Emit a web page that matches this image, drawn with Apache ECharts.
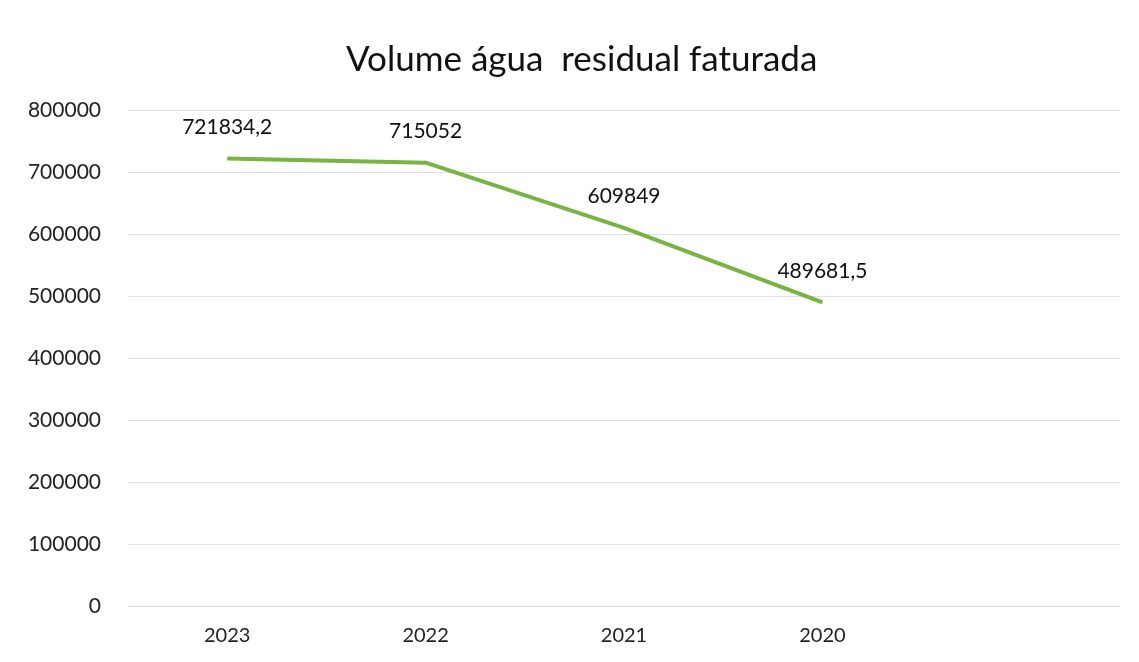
<!DOCTYPE html>
<html>
<head>
<meta charset="utf-8">
<script src="https://cdn.jsdelivr.net/npm/echarts@6/dist/echarts.min.js"></script>
<style>
  html, body { margin: 0; padding: 0; background: #fff; }
  #chart { width: 1139px; height: 662px; }
</style>
</head>
<body>
<div id="chart"></div>
<script>
// anos (a última categoria fica vazia, como no original)
const anos = ["2023", "2022", "2021", "2020", ""]
const volume = [721834.2, 715052, 609849, 489681.5]
const yMin = 0
const yMax = 800000
const yStep = 100000

const chart = echarts.init(document.getElementById("chart"))
chart.setOption({
  animation: false,
  textStyle: { fontFamily: "Lato, 'Open Sans', sans-serif" },
  title: {
    text: "Volume água  residual faturada",
    left: 341,
    top: 37,
    textStyle: { fontSize: 35, fontWeight: "normal", color: "#111" }
  },
  grid: { left: 128, right: 19, top: 110, bottom: 56 },
  xAxis: {
    type: "category",
    data: anos,
    boundaryGap: true,
    axisLine: { lineStyle: { color: "#d9d9d9" } },
    axisTick: { show: false },
    axisLabel: { color: "#222", fontSize: 20, margin: 20 }
  },
  yAxis: {
    type: "value",
    min: yMin,
    max: yMax,
    interval: yStep,
    axisLine: { show: false },
    axisTick: { show: false },
    axisLabel: { color: "#222", fontSize: 21, margin: 27, formatter: v => String(v) },
    splitLine: { lineStyle: { color: "#e0e0e0", width: 1 } }
  },
  series: [
    {
      name: "Volume",
      type: "line",
      data: volume,
      symbol: "circle",
      symbolSize: 2,
      showSymbol: true,
      itemStyle: { color: "rgba(0,0,0,0)" },
      lineStyle: { color: "#78b441", width: 4 },
      label: {
        show: true,
        position: "top",
        distance: 20,
        color: "#111",
        fontSize: 21,
        formatter: p => String(p.value).replace(".", ",")
      }
    }
  ]
})
</script>
</body>
</html>
